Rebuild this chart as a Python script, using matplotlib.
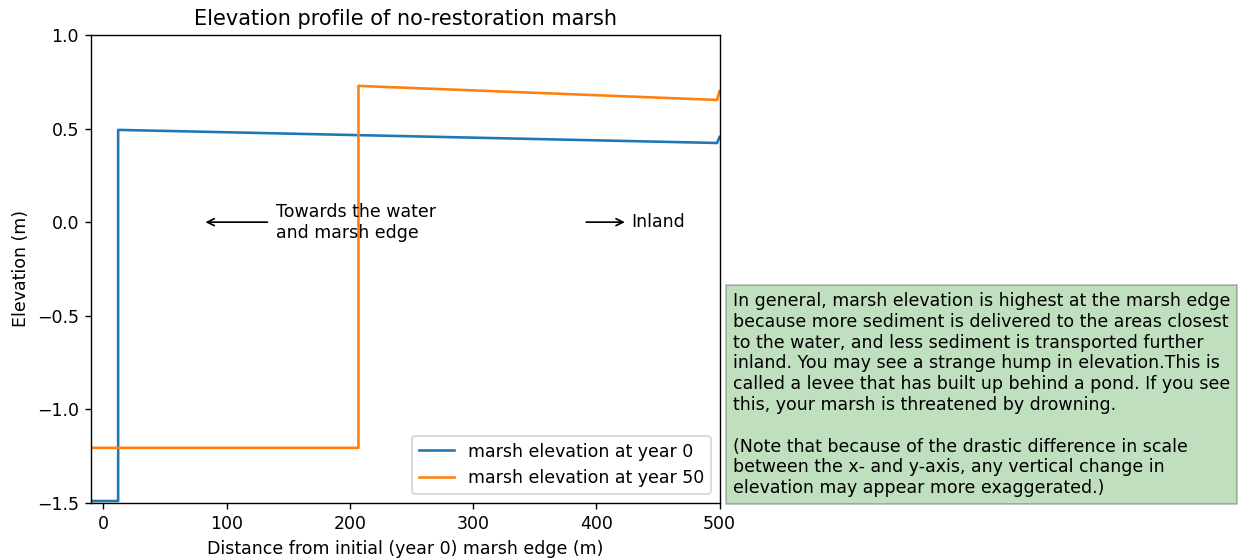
import matplotlib
matplotlib.use("Agg")
import matplotlib.pyplot as plt

# marsh profiles
x_year0 = [-10, 12, 12, 498, 500]
z_year0 = [-1.49, -1.49, 0.493, 0.423, 0.455]
x_year50 = [-10, 207, 207, 498, 500]
z_year50 = [-1.206, -1.206, 0.728, 0.653, 0.70]

note = ("In general, marsh elevation is highest at the marsh edge\n"
        "because more sediment is delivered to the areas closest\n"
        "to the water, and less sediment is transported further\n"
        "inland. You may see a strange hump in elevation.This is\n"
        "called a levee that has built up behind a pond. If you see\n"
        "this, your marsh is threatened by drowning.\n\n"
        "(Note that because of the drastic difference in scale\n"
        "between the x- and y-axis, any vertical change in\n"
        "elevation may appear more exaggerated.)")

fig = plt.figure(figsize=(1247 / 125, 560 / 125), dpi=125)
ax = fig.add_axes([0.073, 0.102, 0.504, 0.8355])

ax.plot(x_year0, z_year0, label="marsh elevation at year 0")
ax.plot(x_year50, z_year50, label="marsh elevation at year 50")

ax.annotate("", xy=(80, 0), xytext=(136, 0),
            arrowprops=dict(arrowstyle="->", color="k"))
ax.text(140, 0, "Towards the water\nand marsh edge", va="center")
ax.annotate("", xy=(426, 0), xytext=(389, 0),
            arrowprops=dict(arrowstyle="->", color="k"))
ax.text(424 + 4, 0, "Inland", va="center")

ax.set_xlim(-10, 500)
ax.set_ylim(-1.5, 1)
ax.set_xticks([0, 100, 200, 300, 400, 500])
ax.set_yticks([-1.5, -1.0, -0.5, 0.0, 0.5, 1.0])
ax.set_xlabel("Distance from initial (year 0) marsh edge (m)")
ax.set_ylabel("Elevation (m)")
ax.set_title("Elevation profile of no-restoration marsh")
ax.legend(loc="lower right")

fig.text(0.5875, 0.112, note, va="bottom", ha="left",
         bbox=dict(facecolor="green", alpha=0.25, boxstyle="square,pad=0.4"))

fig.savefig("out.png", dpi=125)
